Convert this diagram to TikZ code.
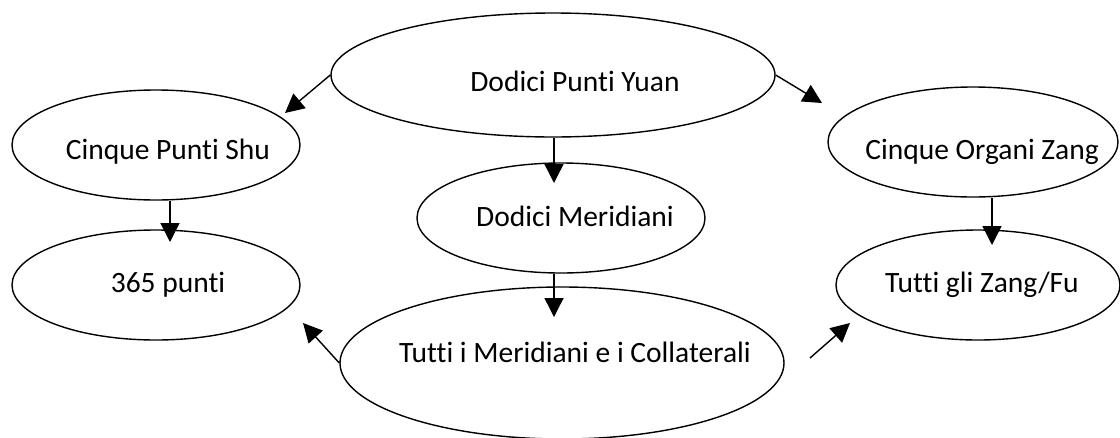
\documentclass[tikz,border=0pt]{standalone}
\usepackage{fontspec}
\setmainfont{Carlito}[Ligatures=NoCommon]
\usetikzlibrary{arrows.meta,shapes.geometric}
\tikzset{
    bubble/.style = {
        draw,
        ellipse,
        line width=1.4pt,
        inner sep=0pt,
        },
    small bubble/.style = {
        bubble,
        minimum width=288pt,
        minimum height=110pt,
        },
    big bubble/.style = {
        bubble,
        minimum width=444pt,
        minimum height=124pt,
        },
    caption/.style = {
        font=\fontsize{29.5}{34}\selectfont,
        text height=19pt,
        text depth=0pt,
        inner sep=0pt,
        },
    link/.style = {
        line width=1.4pt,
        -{Triangle[length=19pt,width=19pt]},
        },
}

\begin{document}
\begin{tikzpicture}[x=1pt,y=-1pt]
            \useasboundingbox (0,0) rectangle (1120,437);

            % ellipses
            \node[big bubble] (yuan) at (553,75) {};
            \node[small bubble] (shu) at (156,145) {};
            \node[small bubble] (punti) at (156,285) {};
            \node[small bubble] (meridiani) at (561,218) {};
            \node[big bubble, minimum height=152pt] (tutti) at (562,363) {};
            \node[small bubble, minimum width=290pt] (organi) at (973,142) {};
            \node[small bubble, minimum width=284pt] (zangfu) at (978,285) {};

            % texts
            \node[caption] (yuan text) at (575,82) {Dodici Punti Yuan};
            \node[caption] (shu text) at (168,150) {Cinque Punti Shu};
            \node[caption] (punti text) at (168,283) {365 punti};
            \node[caption] (meridiani text) at (575,217) {Dodici Meridiani};
            \node[caption] (tutti text) at (575,353) {Tutti i Meridiani e i Collaterali};
            \node[caption] (organi text) at (982,150) {Cinque Organi Zang};
            \node[caption] (zangfu text) at (982,283) {Tutti gli Zang/Fu};

            % free arrow ends
            \coordinate (to shu) at (285,113);
            \coordinate (to organi) at (822,103);
            \coordinate (to meridiani) at (554,183);
            \coordinate (to punti) at (170,242);
            \coordinate (to tutti) at (554,317);
            \coordinate (to zangfu) at (992,245);
            \coordinate (back punti) at (303,323);
            \coordinate (from tutti) at (810,358);
            \coordinate (back zangfu) at (850,323);

            \draw[link] (yuan.west) -- (to shu);
            \draw[link] (yuan.east) -- (to organi);
            \draw[link] (yuan.south -| to meridiani) -- (to meridiani);
            \draw[link] (shu.south -| to punti) -- (to punti);
            \draw[link] (meridiani.south -| to tutti) -- (to tutti);
            \draw[link] (organi.south -| to zangfu) -- (to zangfu);
            \draw[link] (tutti.west) -- (back punti);
            \draw[link] (from tutti) -- (back zangfu);
        \end{tikzpicture}
\end{document}
